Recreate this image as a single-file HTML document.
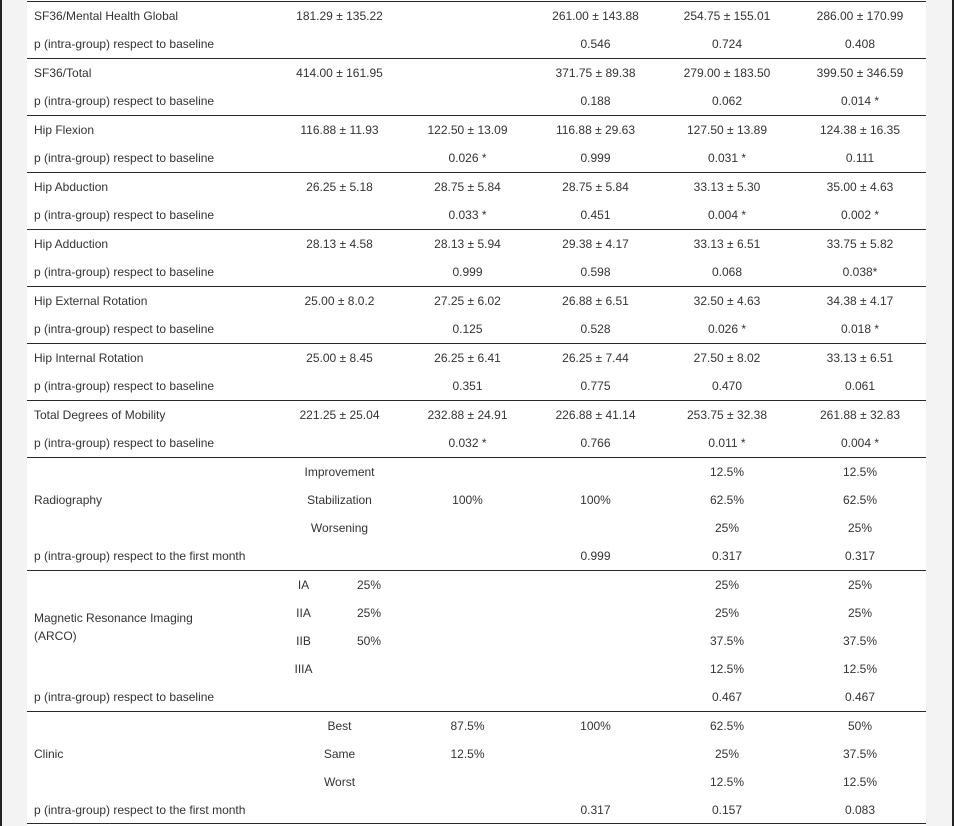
<!DOCTYPE html>
<html>
<head>
<meta charset="utf-8">
<style>
html,body{margin:0;padding:0;}
body{width:954px;height:826px;position:relative;overflow:hidden;background:#f3f3f3;font-family:"Liberation Sans",Arial,sans-serif;font-size:12px;color:#333;}
.bl{position:absolute;left:0;top:0;width:2px;height:826px;background:#222;}
.br{position:absolute;left:952px;top:0;width:2px;height:826px;background:#222;}
.w{position:absolute;left:27px;top:0;width:899px;height:826px;background:#fff;}
.hl{position:absolute;left:27px;width:899px;height:1px;background:#2a2a2a;}
.t{position:absolute;height:28px;line-height:28px;white-space:nowrap;}
.l{left:34px;}
.c1{left:275px;width:129px;text-align:center;}
.c2{left:404px;width:127px;text-align:center;}
.c3{left:531px;width:129px;text-align:center;}
.c4{left:660px;width:134px;text-align:center;}
.c5{left:794px;width:132px;text-align:center;}
.m1{left:273px;width:61px;text-align:center;}
.m2{left:339px;width:60px;text-align:center;}
.blk{position:absolute;left:34px;display:flex;align-items:center;line-height:18px;}
</style>
</head>
<body>
<div class="bl"></div>
<div class="br"></div>
<div class="w"></div>

<div class="hl" style="top:1px"></div>
<div class="hl" style="top:58px"></div>
<div class="hl" style="top:115px"></div>
<div class="hl" style="top:172px"></div>
<div class="hl" style="top:229px"></div>
<div class="hl" style="top:286px"></div>
<div class="hl" style="top:343px"></div>
<div class="hl" style="top:400px"></div>
<div class="hl" style="top:457px"></div>
<div class="hl" style="top:570px"></div>
<div class="hl" style="top:711px"></div>
<div class="hl" style="top:823px"></div>

<!-- G0 -->
<div class="t l" style="top:2px">SF36/Mental Health Global</div>
<div class="t c1" style="top:2px">181.29 ± 135.22</div>
<div class="t c3" style="top:2px">261.00 ± 143.88</div>
<div class="t c4" style="top:2px">254.75 ± 155.01</div>
<div class="t c5" style="top:2px">286.00 ± 170.99</div>
<div class="t l" style="top:30px">p (intra-group) respect to baseline</div>
<div class="t c3" style="top:30px">0.546</div>
<div class="t c4" style="top:30px">0.724</div>
<div class="t c5" style="top:30px">0.408</div>

<!-- G1 -->
<div class="t l" style="top:59px">SF36/Total</div>
<div class="t c1" style="top:59px">414.00 ± 161.95</div>
<div class="t c3" style="top:59px">371.75 ± 89.38</div>
<div class="t c4" style="top:59px">279.00 ± 183.50</div>
<div class="t c5" style="top:59px">399.50 ± 346.59</div>
<div class="t l" style="top:87px">p (intra-group) respect to baseline</div>
<div class="t c3" style="top:87px">0.188</div>
<div class="t c4" style="top:87px">0.062</div>
<div class="t c5" style="top:87px">0.014 *</div>

<!-- G2 -->
<div class="t l" style="top:116px">Hip Flexion</div>
<div class="t c1" style="top:116px">116.88 ± 11.93</div>
<div class="t c2" style="top:116px">122.50 ± 13.09</div>
<div class="t c3" style="top:116px">116.88 ± 29.63</div>
<div class="t c4" style="top:116px">127.50 ± 13.89</div>
<div class="t c5" style="top:116px">124.38 ± 16.35</div>
<div class="t l" style="top:144px">p (intra-group) respect to baseline</div>
<div class="t c2" style="top:144px">0.026 *</div>
<div class="t c3" style="top:144px">0.999</div>
<div class="t c4" style="top:144px">0.031 *</div>
<div class="t c5" style="top:144px">0.111</div>

<!-- G3 -->
<div class="t l" style="top:173px">Hip Abduction</div>
<div class="t c1" style="top:173px">26.25 ± 5.18</div>
<div class="t c2" style="top:173px">28.75 ± 5.84</div>
<div class="t c3" style="top:173px">28.75 ± 5.84</div>
<div class="t c4" style="top:173px">33.13 ± 5.30</div>
<div class="t c5" style="top:173px">35.00 ± 4.63</div>
<div class="t l" style="top:201px">p (intra-group) respect to baseline</div>
<div class="t c2" style="top:201px">0.033 *</div>
<div class="t c3" style="top:201px">0.451</div>
<div class="t c4" style="top:201px">0.004 *</div>
<div class="t c5" style="top:201px">0.002 *</div>

<!-- G4 -->
<div class="t l" style="top:230px">Hip Adduction</div>
<div class="t c1" style="top:230px">28.13 ± 4.58</div>
<div class="t c2" style="top:230px">28.13 ± 5.94</div>
<div class="t c3" style="top:230px">29.38 ± 4.17</div>
<div class="t c4" style="top:230px">33.13 ± 6.51</div>
<div class="t c5" style="top:230px">33.75 ± 5.82</div>
<div class="t l" style="top:258px">p (intra-group) respect to baseline</div>
<div class="t c2" style="top:258px">0.999</div>
<div class="t c3" style="top:258px">0.598</div>
<div class="t c4" style="top:258px">0.068</div>
<div class="t c5" style="top:258px">0.038*</div>

<!-- G5 -->
<div class="t l" style="top:287px">Hip External Rotation</div>
<div class="t c1" style="top:287px">25.00 ± 8.0.2</div>
<div class="t c2" style="top:287px">27.25 ± 6.02</div>
<div class="t c3" style="top:287px">26.88 ± 6.51</div>
<div class="t c4" style="top:287px">32.50 ± 4.63</div>
<div class="t c5" style="top:287px">34.38 ± 4.17</div>
<div class="t l" style="top:315px">p (intra-group) respect to baseline</div>
<div class="t c2" style="top:315px">0.125</div>
<div class="t c3" style="top:315px">0.528</div>
<div class="t c4" style="top:315px">0.026 *</div>
<div class="t c5" style="top:315px">0.018 *</div>

<!-- G6 -->
<div class="t l" style="top:344px">Hip Internal Rotation</div>
<div class="t c1" style="top:344px">25.00 ± 8.45</div>
<div class="t c2" style="top:344px">26.25 ± 6.41</div>
<div class="t c3" style="top:344px">26.25 ± 7.44</div>
<div class="t c4" style="top:344px">27.50 ± 8.02</div>
<div class="t c5" style="top:344px">33.13 ± 6.51</div>
<div class="t l" style="top:372px">p (intra-group) respect to baseline</div>
<div class="t c2" style="top:372px">0.351</div>
<div class="t c3" style="top:372px">0.775</div>
<div class="t c4" style="top:372px">0.470</div>
<div class="t c5" style="top:372px">0.061</div>

<!-- G7 -->
<div class="t l" style="top:401px">Total Degrees of Mobility</div>
<div class="t c1" style="top:401px">221.25 ± 25.04</div>
<div class="t c2" style="top:401px">232.88 ± 24.91</div>
<div class="t c3" style="top:401px">226.88 ± 41.14</div>
<div class="t c4" style="top:401px">253.75 ± 32.38</div>
<div class="t c5" style="top:401px">261.88 ± 32.83</div>
<div class="t l" style="top:429px">p (intra-group) respect to baseline</div>
<div class="t c2" style="top:429px">0.032 *</div>
<div class="t c3" style="top:429px">0.766</div>
<div class="t c4" style="top:429px">0.011 *</div>
<div class="t c5" style="top:429px">0.004 *</div>

<!-- Radiography -->
<div class="blk" style="top:458px;height:84px;">Radiography</div>
<div class="t c1" style="top:458px">Improvement</div>
<div class="t c4" style="top:458px">12.5%</div>
<div class="t c5" style="top:458px">12.5%</div>
<div class="t c1" style="top:486px">Stabilization</div>
<div class="t c2" style="top:486px">100%</div>
<div class="t c3" style="top:486px">100%</div>
<div class="t c4" style="top:486px">62.5%</div>
<div class="t c5" style="top:486px">62.5%</div>
<div class="t c1" style="top:514px">Worsening</div>
<div class="t c4" style="top:514px">25%</div>
<div class="t c5" style="top:514px">25%</div>
<div class="t l" style="top:542px">p (intra-group) respect to the first month</div>
<div class="t c3" style="top:542px">0.999</div>
<div class="t c4" style="top:542px">0.317</div>
<div class="t c5" style="top:542px">0.317</div>

<!-- MRI -->
<div class="blk" style="top:571px;height:112px;">Magnetic Resonance Imaging<br>(ARCO)</div>
<div class="t m1" style="top:571px">IA</div>
<div class="t m2" style="top:571px">25%</div>
<div class="t c4" style="top:571px">25%</div>
<div class="t c5" style="top:571px">25%</div>
<div class="t m1" style="top:599px">IIA</div>
<div class="t m2" style="top:599px">25%</div>
<div class="t c4" style="top:599px">25%</div>
<div class="t c5" style="top:599px">25%</div>
<div class="t m1" style="top:627px">IIB</div>
<div class="t m2" style="top:627px">50%</div>
<div class="t c4" style="top:627px">37.5%</div>
<div class="t c5" style="top:627px">37.5%</div>
<div class="t m1" style="top:655px">IIIA</div>
<div class="t c4" style="top:655px">12.5%</div>
<div class="t c5" style="top:655px">12.5%</div>
<div class="t l" style="top:683px">p (intra-group) respect to baseline</div>
<div class="t c4" style="top:683px">0.467</div>
<div class="t c5" style="top:683px">0.467</div>

<!-- Clinic -->
<div class="blk" style="top:712px;height:84px;">Clinic</div>
<div class="t c1" style="top:712px">Best</div>
<div class="t c2" style="top:712px">87.5%</div>
<div class="t c3" style="top:712px">100%</div>
<div class="t c4" style="top:712px">62.5%</div>
<div class="t c5" style="top:712px">50%</div>
<div class="t c1" style="top:740px">Same</div>
<div class="t c2" style="top:740px">12.5%</div>
<div class="t c4" style="top:740px">25%</div>
<div class="t c5" style="top:740px">37.5%</div>
<div class="t c1" style="top:768px">Worst</div>
<div class="t c4" style="top:768px">12.5%</div>
<div class="t c5" style="top:768px">12.5%</div>
<div class="t l" style="top:796px">p (intra-group) respect to the first month</div>
<div class="t c3" style="top:796px">0.317</div>
<div class="t c4" style="top:796px">0.157</div>
<div class="t c5" style="top:796px">0.083</div>
</body>
</html>
